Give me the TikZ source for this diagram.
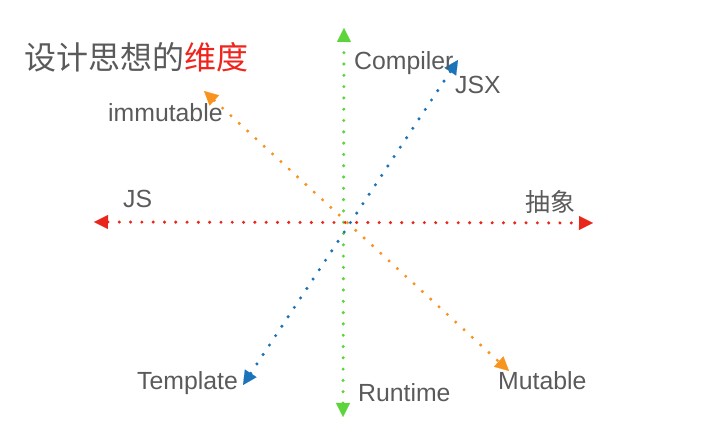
\documentclass[tikz,border=0pt]{standalone}
\usepackage{fontspec}
\setmainfont{Liberation Sans}
\newfontfamily\cjk{Noto Sans CJK SC}
\usetikzlibrary{arrows.meta}
\definecolor{txtgray}{HTML}{5A5A5A}
\definecolor{ttlred}{HTML}{F0241C}
\definecolor{axgreen}{HTML}{5CD43A}
\definecolor{axred}{HTML}{E8261A}
\definecolor{axblue}{HTML}{1B73BA}
\definecolor{axorange}{HTML}{F7931E}
\tikzset{
  axis/.style={line width=3.4pt, line cap=round, dash pattern=on 0pt off 11.3pt,
    {Triangle[length=14pt,width=14pt,line width=0.1pt]}-{Triangle[length=14pt,width=14pt,line width=0.1pt]}},
  lbl/.style={inner sep=0pt, anchor=base west, text=txtgray, font=\fontsize{24.8}{28}\selectfont},
  cjklbl/.style={inner sep=0pt, anchor=west, text=txtgray, font=\cjk\fontsize{25}{28}\selectfont},
}
\begin{document}
\begin{tikzpicture}[x=1pt,y=-1pt]
\useasboundingbox (0,0) rectangle (716,435);
% axis end points
\coordinate (gT) at (344,28);
\coordinate (gB) at (343,417);
\coordinate (rL) at (94,222);
\coordinate (rR) at (593,223);
\coordinate (bT) at (458,60);
\coordinate (bB) at (243,385);
\coordinate (oT) at (204,91);
\coordinate (oB) at (509,371);
\draw[axis, axgreen] (gB) -- (gT);
\draw[axis, axred] (rL) -- (rR);
\draw[axis, axorange] (oT) -- (oB);
\draw[axis, axblue] (bB) -- (bT);
% title
\node[inner sep=0pt, anchor=west, font=\cjk\fontsize{32}{36}\selectfont, text=txtgray] (title) at (24,57) {设计思想的\textcolor{ttlred}{维度}};
% labels
\node[lbl] (compiler) at (354,70) {Compiler};
\node[lbl] (jsx) at (455,94) {JSX};
\node[lbl] (immutable) at (108,122) {immutable};
\node[lbl] (js) at (123,208) {JS};
\node[cjklbl] (abs) at (525,202) {抽象};
\node[lbl] (template) at (137,390) {Template};
\node[lbl] (runtime) at (358,402) {Runtime};
\node[lbl] (mutable) at (498,390) {Mutable};
\end{tikzpicture}
\end{document}
